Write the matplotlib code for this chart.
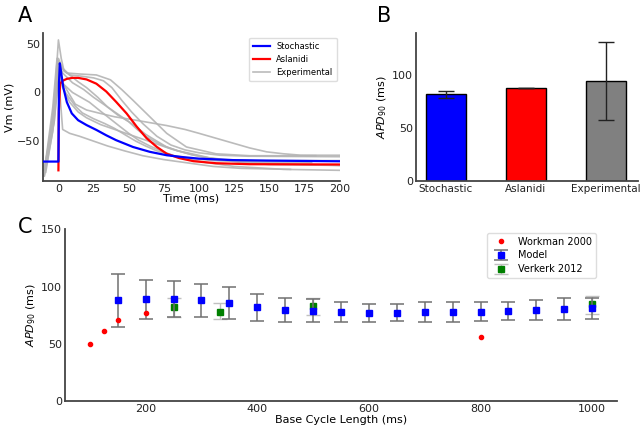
import matplotlib
matplotlib.use("Agg")
import matplotlib.pyplot as plt
import numpy as np

# ---------------- Panel A data ----------------
stoch_t = [-11, 0, 0.4, 1, 2, 3.5, 6, 9.5, 14, 20, 27, 34, 41, 53, 65, 77, 89, 100, 124, 148, 200]
stoch_v = [-71, -71, 10, 30, 20, 5, -10, -21.5, -28.5, -33.5, -38.5, -44, -49, -56, -61, -64.5, -66.5, -68, -69.5, -70, -70.7]

aslan_t = [0, 0.3, 1.2, 3, 6, 10, 14, 20, 27, 34, 41, 48.5, 55.6, 62.7, 70, 77, 86, 96, 112, 136, 200]
aslan_v = [-80, -20, 9, 12, 14, 15, 15, 13.4, 9, 1, -9.6, -21.6, -35, -47, -56, -63, -67.5, -70.6, -72.7, -73.7, -74]

exp_traces = [
    ([-9, -5, -2, 0, 2, 4, 8, 15, 25, 32, 38, 45, 52, 60, 70, 80, 90, 100, 115, 135, 200],
     [-75, -40, 10, 54, 35, 22, 18, 17, 15, 12, 5, -8, -20, -32, -45, -54, -59, -62, -64.5, -65.5, -66]),
    ([-9, -4, -1, 2, 6, 15, 27, 37, 45, 53, 65, 77, 91, 112, 136, 183],
     [-70, -15, 35, 25, 20, 19, 18, 13, 3, -8, -25, -42, -56, -63, -65, -65]),
    ([-10, -4, 0, 3, 7, 12, 20, 30, 40, 53, 65, 77, 90, 100, 112, 124, 136, 148, 160, 172, 185, 200],
     [-85, -30, 30, 10, 0, -12, -18, -21.6, -25, -28, -31, -34, -38, -42, -47, -52, -57, -61, -63, -64.4, -64.5, -64.5]),
    ([-10, -4, 0, 3, 8, 14, 20, 30, 40, 50, 60, 70, 80, 95, 110, 130, 150, 200],
     [-80, -25, 25, 5, -10, -20, -26, -33, -38, -43, -48, -53, -58, -64, -68, -72, -74, -75]),
    ([-9, -3, 0, 1.5, 3, 8, 15, 25, 35, 47, 60, 75, 90, 110, 130, 165],
     [-82, -30, 20, -10, -38, -42, -45, -50, -55, -60, -65, -69, -72, -76, -78, -79]),
    ([-8, -3, 0, 3, 10, 18, 25, 32, 40, 48, 55, 62, 70, 77, 85, 95, 105, 120, 140, 200],
     [-65, -15, 30, 20, 10, 3, -5, -12, -20, -28, -35, -43, -50, -56, -60, -64, -67, -69, -70, -70]),
    ([-9, -3, 0, 3, 8, 14, 20, 28, 35, 42, 50, 56, 62, 68, 75, 85, 95, 107, 120, 150, 200],
     [-78, -20, 35, 25, 18, 11, 5, -5, -15, -23, -30, -38, -45, -50, -55, -60, -63, -67, -70, -73, -75]),
    ([-10, -4, 0, 2, 5, 8, 12, 17, 25, 33, 40, 48, 55, 62, 70, 80, 90, 105, 125, 160, 200],
     [-86, -40, 25, 10, 0, -6, -14, -21, -27, -32, -37, -44, -50, -55, -60, -64, -68, -72, -76, -79, -80]),
    ([-10, -3, 0, 4, 10, 16, 22, 28, 35, 42, 50, 57, 65, 73, 82, 95, 110, 140, 180],
     [-76, -30, 15, 8, 0, -5, -10, -17, -25, -33, -42, -49, -55, -60, -65, -68, -70, -71.5, -72]),
]

# ---------------- Panel B data ----------------
bar_labels = ["Stochastic", "Aslanidi", "Experimental"]
bar_values = [82, 88, 95]
bar_errors = [3, 0, 37]
bar_colors = ["#0000ff", "#ff0000", "#808080"]

# ---------------- Panel C data ----------------
model_bcl = [150, 200, 250, 300, 350, 400, 450, 500, 550, 600, 650, 700, 750, 800, 850, 900, 950, 1000]
model_apd = [88, 88.7, 89.2, 88, 86, 82, 79.4, 78.8, 77.9, 77.3, 77.3, 77.9, 77.9, 77.9, 78.8, 79.7, 80.2, 81.1]
model_hi = [111.3, 105.5, 104.7, 102, 99.7, 93.9, 89.8, 89, 86.3, 84.9, 84.9, 86.3, 86.3, 86.3, 86.3, 88.4, 89.8, 90.4]
model_lo = [65.1, 72, 73.8, 73.8, 72, 70, 69.2, 69.2, 69.2, 69.2, 70, 68.9, 69.2, 70, 70.9, 70.9, 70.9, 71.5]

workman_bcl = [100, 125, 150, 200, 800]
workman_apd = [50.3, 61, 70.6, 76.7, 55.8]

verkerk_bcl = [250, 333, 500, 1000]
verkerk_apd = [82, 78, 83, 84.5]
verkerk_hi = [90, 86, 90, 92]
verkerk_lo = [73.5, 71.5, 75, 76]

# ---------------- Figure ----------------
plt.rcParams['font.family'] = ['DejaVu Sans']
fig = plt.figure(figsize=(6.41, 4.30), dpi=100)

spine_col = "#444444"
tick_kw = dict(labelsize=8, length=0, pad=2, colors="#222222")

def style(ax):
    for s in ["top", "right"]:
        ax.spines[s].set_visible(False)
    for s in ["left", "bottom"]:
        ax.spines[s].set_color(spine_col)
        ax.spines[s].set_linewidth(1.3)
    ax.tick_params(**tick_kw)

# Panel A
axA = fig.add_axes([0.067, 0.579, 0.463, 0.344])
for i, (t, v) in enumerate(exp_traces):
    axA.plot(t, v, color="#b4b4b4", lw=1.2, alpha=0.9,
             label="Experimental" if i == 0 else None, zorder=1)
axA.plot(stoch_t, stoch_v, color="#0000ff", lw=1.6, label="Stochastic", zorder=3)
axA.plot(aslan_t, aslan_v, color="#ff0000", lw=1.6, label="Aslanidi", zorder=2)
axA.set_xlim(-11, 200)
axA.set_ylim(-91, 61)
axA.set_xticks([0, 25, 50, 75, 100, 125, 150, 175, 200])
axA.set_yticks([-50, 0, 50])
axA.set_yticklabels(["\u221250", "0", "50"])
axA.set_xlabel("Time (ms)", fontsize=8, labelpad=0)
axA.set_ylabel("Vm (mV)", fontsize=8, labelpad=2)
style(axA)
h, l = axA.get_legend_handles_labels()
order = [l.index("Stochastic"), l.index("Aslanidi"), l.index("Experimental")]
axA.legend([h[i] for i in order], [l[i] for i in order], loc="upper right",
           fontsize=6, frameon=True, framealpha=1, edgecolor="#dddddd",
           handlelength=2.0, borderpad=0.5, borderaxespad=0,
           bbox_to_anchor=(0.99, 0.97))

# Panel B
axB = fig.add_axes([0.649, 0.579, 0.346, 0.344])
xpos = np.arange(len(bar_labels))
axB.bar(xpos, bar_values, width=0.5, color=bar_colors, edgecolor="black", linewidth=1.0,
        yerr=bar_errors, capsize=6, error_kw=dict(ecolor="#222222", elinewidth=1.0, capthick=1.0))
axB.set_xlim(-0.37, 2.4)
axB.set_ylim(0, 140)
axB.set_xticks(xpos)
axB.set_xticklabels(bar_labels, fontsize=7.5)
axB.set_yticks([0, 50, 100])
axB.set_ylabel("$APD_{90}$ (ms)", fontsize=8, labelpad=2)
style(axB)
axB.tick_params(axis="x", labelsize=7.5)

# Panel C
axC = fig.add_axes([0.101, 0.067, 0.862, 0.400])
axC.plot(workman_bcl, workman_apd, 'o', color="#ff0000", ms=3, label="Workman 2000", zorder=4)
m_err = [np.array(model_apd) - np.array(model_lo), np.array(model_hi) - np.array(model_apd)]
axC.errorbar(model_bcl, model_apd, yerr=m_err, fmt='s', color="#0000ff", ms=4,
             ecolor="#707070", elinewidth=1.1, capsize=5, capthick=1.1, label="Model", zorder=3)
v_err = [np.array(verkerk_apd) - np.array(verkerk_lo), np.array(verkerk_hi) - np.array(verkerk_apd)]
axC.errorbar(verkerk_bcl, verkerk_apd, yerr=v_err, fmt='s', color="#008000", ms=4,
             ecolor="#c0c0c0", elinewidth=1.0, capsize=5, capthick=1.0, label="Verkerk 2012", zorder=2)
axC.set_xlim(55, 1045)
axC.set_ylim(0, 150)
axC.set_xticks([200, 400, 600, 800, 1000])
axC.set_yticks([0, 50, 100, 150])
axC.set_xlabel("Base Cycle Length (ms)", fontsize=8, labelpad=1)
axC.set_ylabel("$APD_{90}$ (ms)", fontsize=8, labelpad=2)
style(axC)
axC.legend(loc="upper right", fontsize=7, frameon=True, framealpha=1, edgecolor="#dddddd",
           bbox_to_anchor=(0.962, 0.98), borderaxespad=0, handletextpad=0.8,
           labelspacing=0.4)

# Panel letters
fig.text(0.028, 0.985, "A", fontsize=15, va="top")
fig.text(0.588, 0.985, "B", fontsize=15, va="top")
fig.text(0.028, 0.495, "C", fontsize=15, va="top")

fig.savefig("out.png", dpi=100)
